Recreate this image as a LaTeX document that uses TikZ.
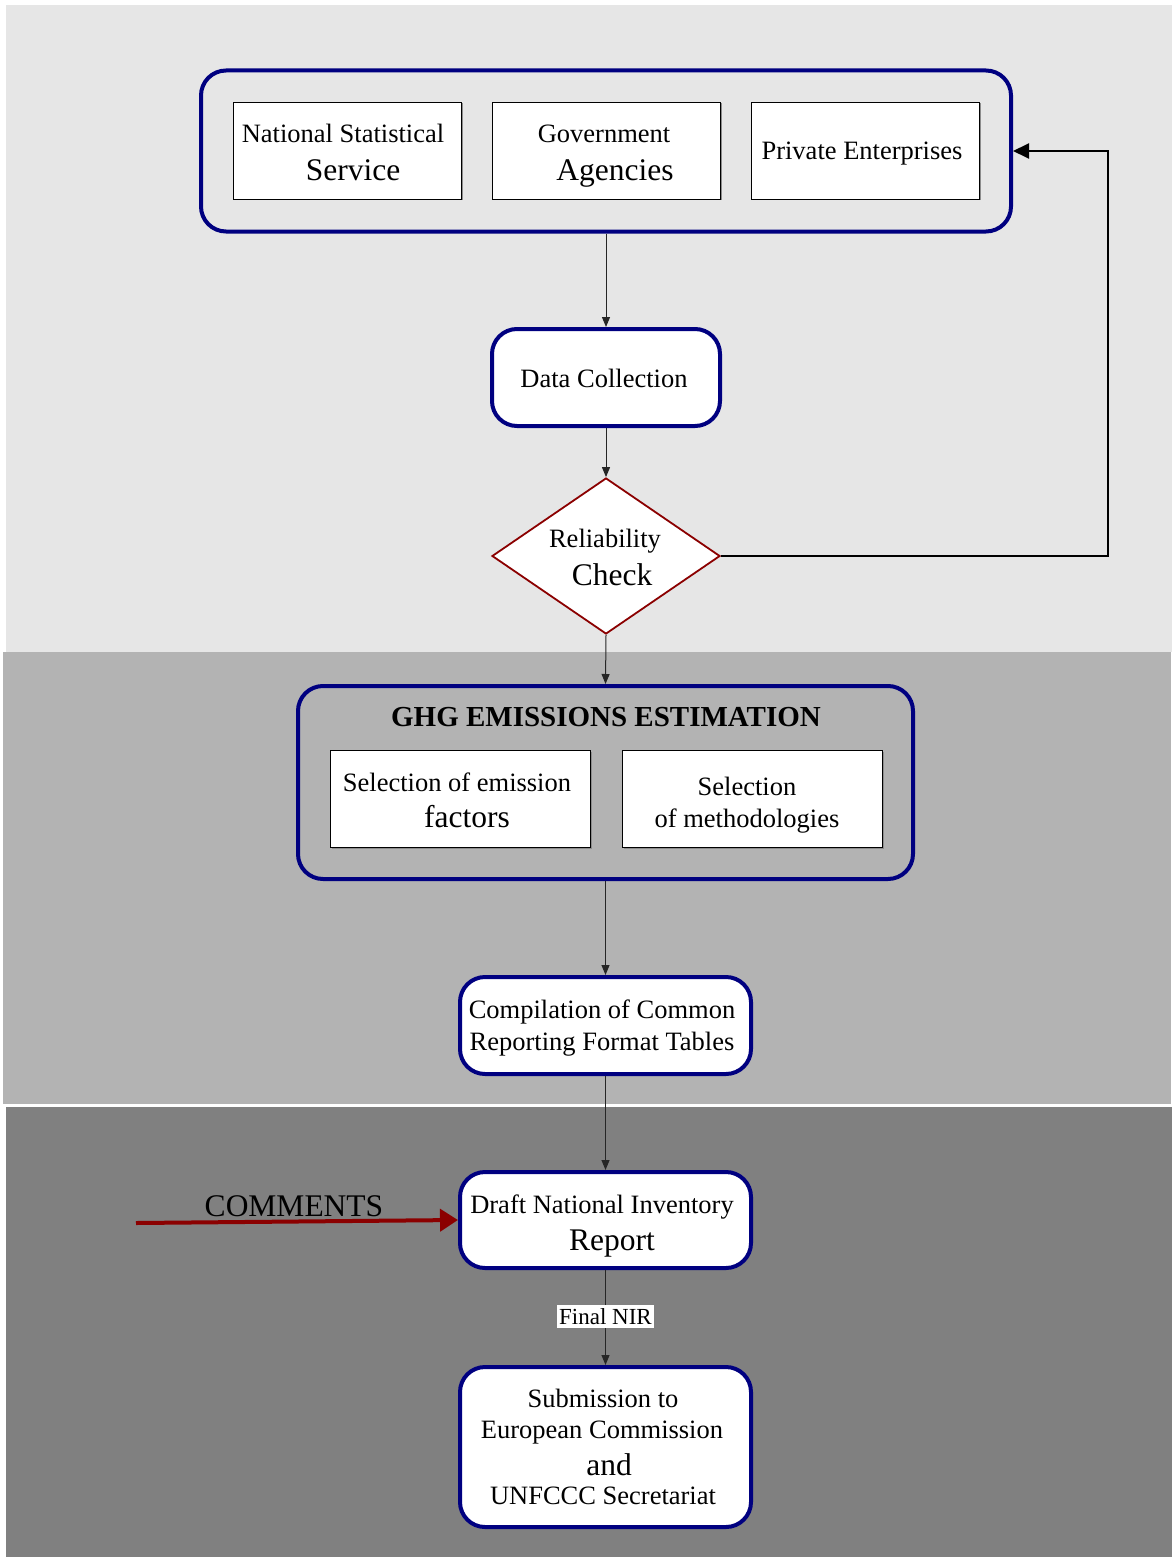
\documentclass[tikz,border=0pt]{standalone}
\usepackage{fontspec}
\setmainfont{Liberation Serif}
\usetikzlibrary{shapes.geometric,arrows.meta,shadows}
\definecolor{navyb}{RGB}{0,0,128}
\definecolor{dred}{RGB}{139,0,0}
\definecolor{bgA}{RGB}{230,230,230}
\definecolor{bgB}{RGB}{179,179,179}
\definecolor{bgC}{RGB}{128,128,128}
\newcommand\Smf{\fontsize{26.5}{32}\selectfont}
\newcommand\Lgf{\fontsize{31.5}{38}\selectfont}
\begin{document}
\begin{tikzpicture}[x=1pt,y=-1pt,
  grp/.style={draw=navyb,line width=4pt,rounded corners=25pt,inner sep=0pt},
  rbox/.style={draw=navyb,line width=4pt,rounded corners=25pt,fill=white,inner sep=0pt},
  sbox/.style={draw=black,line width=0.8pt,fill=white,inner sep=0pt,
    drop shadow={shadow xshift=1.5pt,shadow yshift=-1.5pt,fill=black!45,opacity=1}},
  tl/.style={anchor=base,inner sep=0pt,font=\Smf},
  tL/.style={anchor=base,inner sep=0pt,font=\Lgf},
  conn/.style={draw=black!85,line width=1pt,-{Triangle[length=10pt,width=8pt]}},
]
\useasboundingbox (0,0) rectangle (1172,1557);
% background bands
\fill[bgA] (6,5) rectangle (1172,652);
\fill[bgB] (3,652) rectangle (1171,1104);
\fill[bgC] (6,1107) rectangle (1172,1557);

% top group
\node[grp,minimum width=810pt,minimum height=161pt] (top) at (606,151) {};
\node[sbox,minimum width=228pt,minimum height=97pt] (nss) at (347,150.5) {};
\node[sbox,minimum width=228pt,minimum height=97pt] (gov) at (606,150.5) {};
\node[sbox,minimum width=228pt,minimum height=97pt] (priv) at (865,150.5) {};
\node[tl] (nssA) at (343,143) {National Statistical};
\node[tL] (nssB) at (353,181) {Service};
\node[tl] (govA) at (604,143) {Government};
\node[tL] (govB) at (615,181) {Agencies};
\node[tl] (privA) at (862,160) {Private Enterprises};

% data collection
\node[rbox,minimum width=228pt,minimum height=97pt] (dc) at (606,377.5) {};
\node[tl] (dcA) at (604,387) {Data Collection};

% reliability check
\node[diamond,draw=dred,line width=1.8pt,fill=white,aspect=1.46,minimum width=228pt,minimum height=156pt,
  inner sep=0pt] (rc) at (606,556) {};
\node[tl] (rcA) at (605,547) {Reliability};
\node[tL] (rcB) at (612,585) {Check};

% GHG group
\node[grp,minimum width=615pt,minimum height=193pt] (ghg) at (605.5,782.5) {};
\node[anchor=base,inner sep=0pt,font=\fontsize{29}{34}\selectfont\bfseries] (ghgt) at (606,726) {GHG EMISSIONS ESTIMATION};
\node[sbox,minimum width=260pt,minimum height=97pt] (sef) at (460,798.5) {};
\node[sbox,minimum width=260pt,minimum height=97pt] (smeth) at (752,798.5) {};
\node[tl] (sefA) at (457,791) {Selection of emission};
\node[tL] (sefB) at (467,827) {factors};
\node[tl] (smA) at (747,795) {Selection};
\node[tl] (smB) at (747,827) {of methodologies};

% compilation
\node[rbox,minimum width=291pt,minimum height=97pt] (comp) at (605.5,1025.5) {};
\node[tl] (compA) at (602,1018) {Compilation of Common};
\node[tl] (compB) at (602,1050) {Reporting Format Tables};

% draft
\node[rbox,minimum width=291pt,minimum height=96pt] (draft) at (605.5,1220) {};
\node[tl] (drA) at (602,1213) {Draft National Inventory};
\node[tL] (drB) at (612,1250) {Report};

% submission
\node[rbox,minimum width=291pt,minimum height=160pt] (sub) at (605.5,1447) {};
\node[tl] (subA) at (603,1407) {Submission to};
\node[tl] (subB) at (602,1438) {European Commission};
\node[tL] (subC) at (609,1475) {and};
\node[tl] (subD) at (603,1504) {UNFCCC Secretariat};

% connectors
\draw[conn] (top.south) -- (dc.north);
\draw[conn] (dc.south) -- (rc.north);
\draw[conn] (rc.south) -- (ghg.north);
\draw[conn] (ghg.south) -- (comp.north);
\draw[conn] (comp.south) -- (draft.north);
\draw[conn] (draft.south) -- node[pos=0.49,fill=white,inner xsep=2pt,inner ysep=3pt,font=\fontsize{23}{27}\selectfont] (fnir) {Final NIR} (sub.north);

% feedback loop
\coordinate (fb) at (1108,556);
\draw[line width=2pt,-{Triangle[length=16pt,width=15pt]}] (rc.east) -- (fb) |- (top.east);

% comments
\coordinate (cstart) at (136,1223);
\draw[dred,line width=4pt,-{Triangle[length=18pt,width=22pt]}] (cstart) -- (draft.west);
\node[tL] (cmt) at (294,1216) {COMMENTS};
\end{tikzpicture}
\end{document}
